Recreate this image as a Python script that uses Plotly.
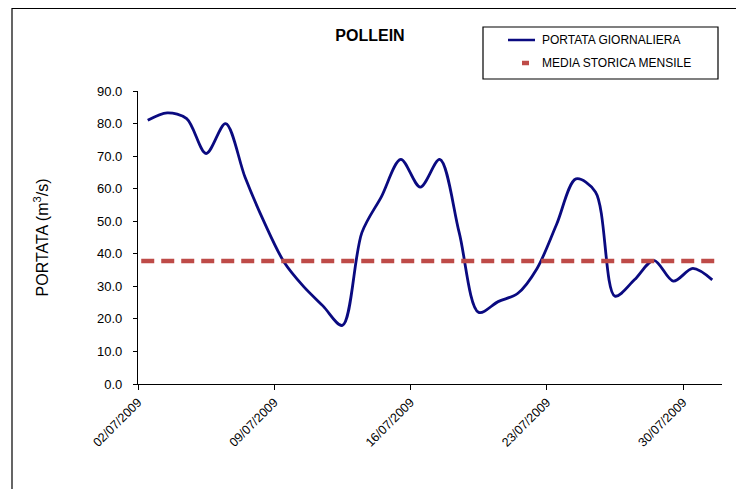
import pandas as pd
import plotly.graph_objects as go

# ---- data ----
dates = pd.date_range("2009-07-02 12:00", "2009-07-31 12:00", freq="D")
portata = [81.0, 83.3, 81.5, 70.8, 80.0, 63.5, 49.5, 37.5, 30.0, 24.0,
           18.0, 46.5, 57.5, 69.0, 60.5, 69.0, 46.5, 22.0, 25.3, 27.8,
           35.5, 49.0, 63.0, 59.0, 27.0, 32.0, 38.0, 31.6, 35.5, 32.0]
media_mensile = 37.8
tick_dates = ["2009-07-02", "2009-07-09", "2009-07-16", "2009-07-23", "2009-07-30"]
tick_labels = ["02/07/2009", "09/07/2009", "16/07/2009", "23/07/2009", "30/07/2009"]
y_ticks = [0, 10, 20, 30, 40, 50, 60, 70, 80, 90]
series_names = ["PORTATA GIORNALIERA", "MEDIA STORICA MENSILE"]
series_colors = ["#0A0A80", "#BE4B48"]

# page body adds an 8px offset; layout is expressed in screen pixels
OFF = 8
W, H = 744, 489
L, R, T, B = 130, 30, 83, 113
pw, ph = W - L - R, H - T - B

def sx(p):  # screen x pixel -> paper
    return (p - OFF - L) / pw

def sy(p):  # screen y pixel -> paper
    return (H - B - (p - OFF)) / ph

fig = go.Figure()
fig.add_trace(go.Scatter(
    x=dates, y=portata, mode="lines", name=series_names[0], showlegend=False,
    line=dict(color=series_colors[0], width=2.8, shape="spline", smoothing=0.9),
))
fig.add_trace(go.Scatter(
    x=[dates[0] - pd.Timedelta(hours=8), dates[-1] + pd.Timedelta(hours=8)],
    y=[media_mensile, media_mensile], mode="lines", name=series_names[1], showlegend=False,
    line=dict(color=series_colors[1], width=4.5, dash="13px,7px"),
))

font_main = "Liberation Sans, Arial, sans-serif"
fig.update_layout(
    width=W, height=H,
    margin=dict(l=L, r=R, t=T, b=B),
    paper_bgcolor="white", plot_bgcolor="white",
    font=dict(family=font_main, color="black", size=13),
    title=dict(text="<b>POLLEIN</b>", x=sx(370), xref="paper", xanchor="center",
               y=1 - (35 - OFF) / H, yanchor="middle", font=dict(size=16, family=font_main)),
    showlegend=False,
)
fig.update_xaxes(
    type="date", range=["2009-07-02", "2009-08-01"],
    tickvals=tick_dates, ticktext=tick_labels, tickangle=-45,
    showline=True, linecolor="black", linewidth=1.3,
    ticks="outside", ticklen=5, tickcolor="black",
    showgrid=False, zeroline=False,
    tickfont=dict(size=12.5, family=font_main),
)
fig.update_yaxes(
    range=[0, 90], tickvals=y_ticks, tickformat=".1f",
    showline=True, linecolor="black", linewidth=1.3,
    ticks="outside", ticklen=4, tickcolor="black", ticklabelstandoff=8,
    showgrid=False, zeroline=False,
    title=dict(text="PORTATA (m<sup>3</sup>/s)", standoff=44, font=dict(size=16)),
    tickfont=dict(size=13, family=font_main),
)
# outer chart frame
fig.add_shape(type="rect", xref="paper", yref="paper",
              x0=sx(12), x1=sx(737), y0=sy(520), y1=sy(8.5),
              line=dict(color="black", width=1.2), fillcolor="rgba(0,0,0,0)", layer="below")

# legend box (drawn as shapes + text)
fig.add_shape(type="rect", xref="paper", yref="paper",
              x0=sx(483), x1=sx(718), y0=sy(79), y1=sy(27),
              line=dict(color="black", width=1.2), fillcolor="white")
leg_rows = [40, 63]
fig.add_shape(type="line", xref="paper", yref="paper",
              x0=sx(508), x1=sx(535), y0=sy(leg_rows[0]), y1=sy(leg_rows[0]),
              line=dict(color=series_colors[0], width=2.5))
fig.add_shape(type="line", xref="paper", yref="paper",
              x0=sx(522), x1=sx(529), y0=sy(leg_rows[1]), y1=sy(leg_rows[1]),
              line=dict(color=series_colors[1], width=4.5))
for name, row in zip(series_names, leg_rows):
    fig.add_annotation(text=name, xref="paper", yref="paper",
                       x=sx(540), y=sy(row), xanchor="left", yanchor="middle",
                       showarrow=False, font=dict(size=12, family=font_main))

fig.write_html("out.html")
